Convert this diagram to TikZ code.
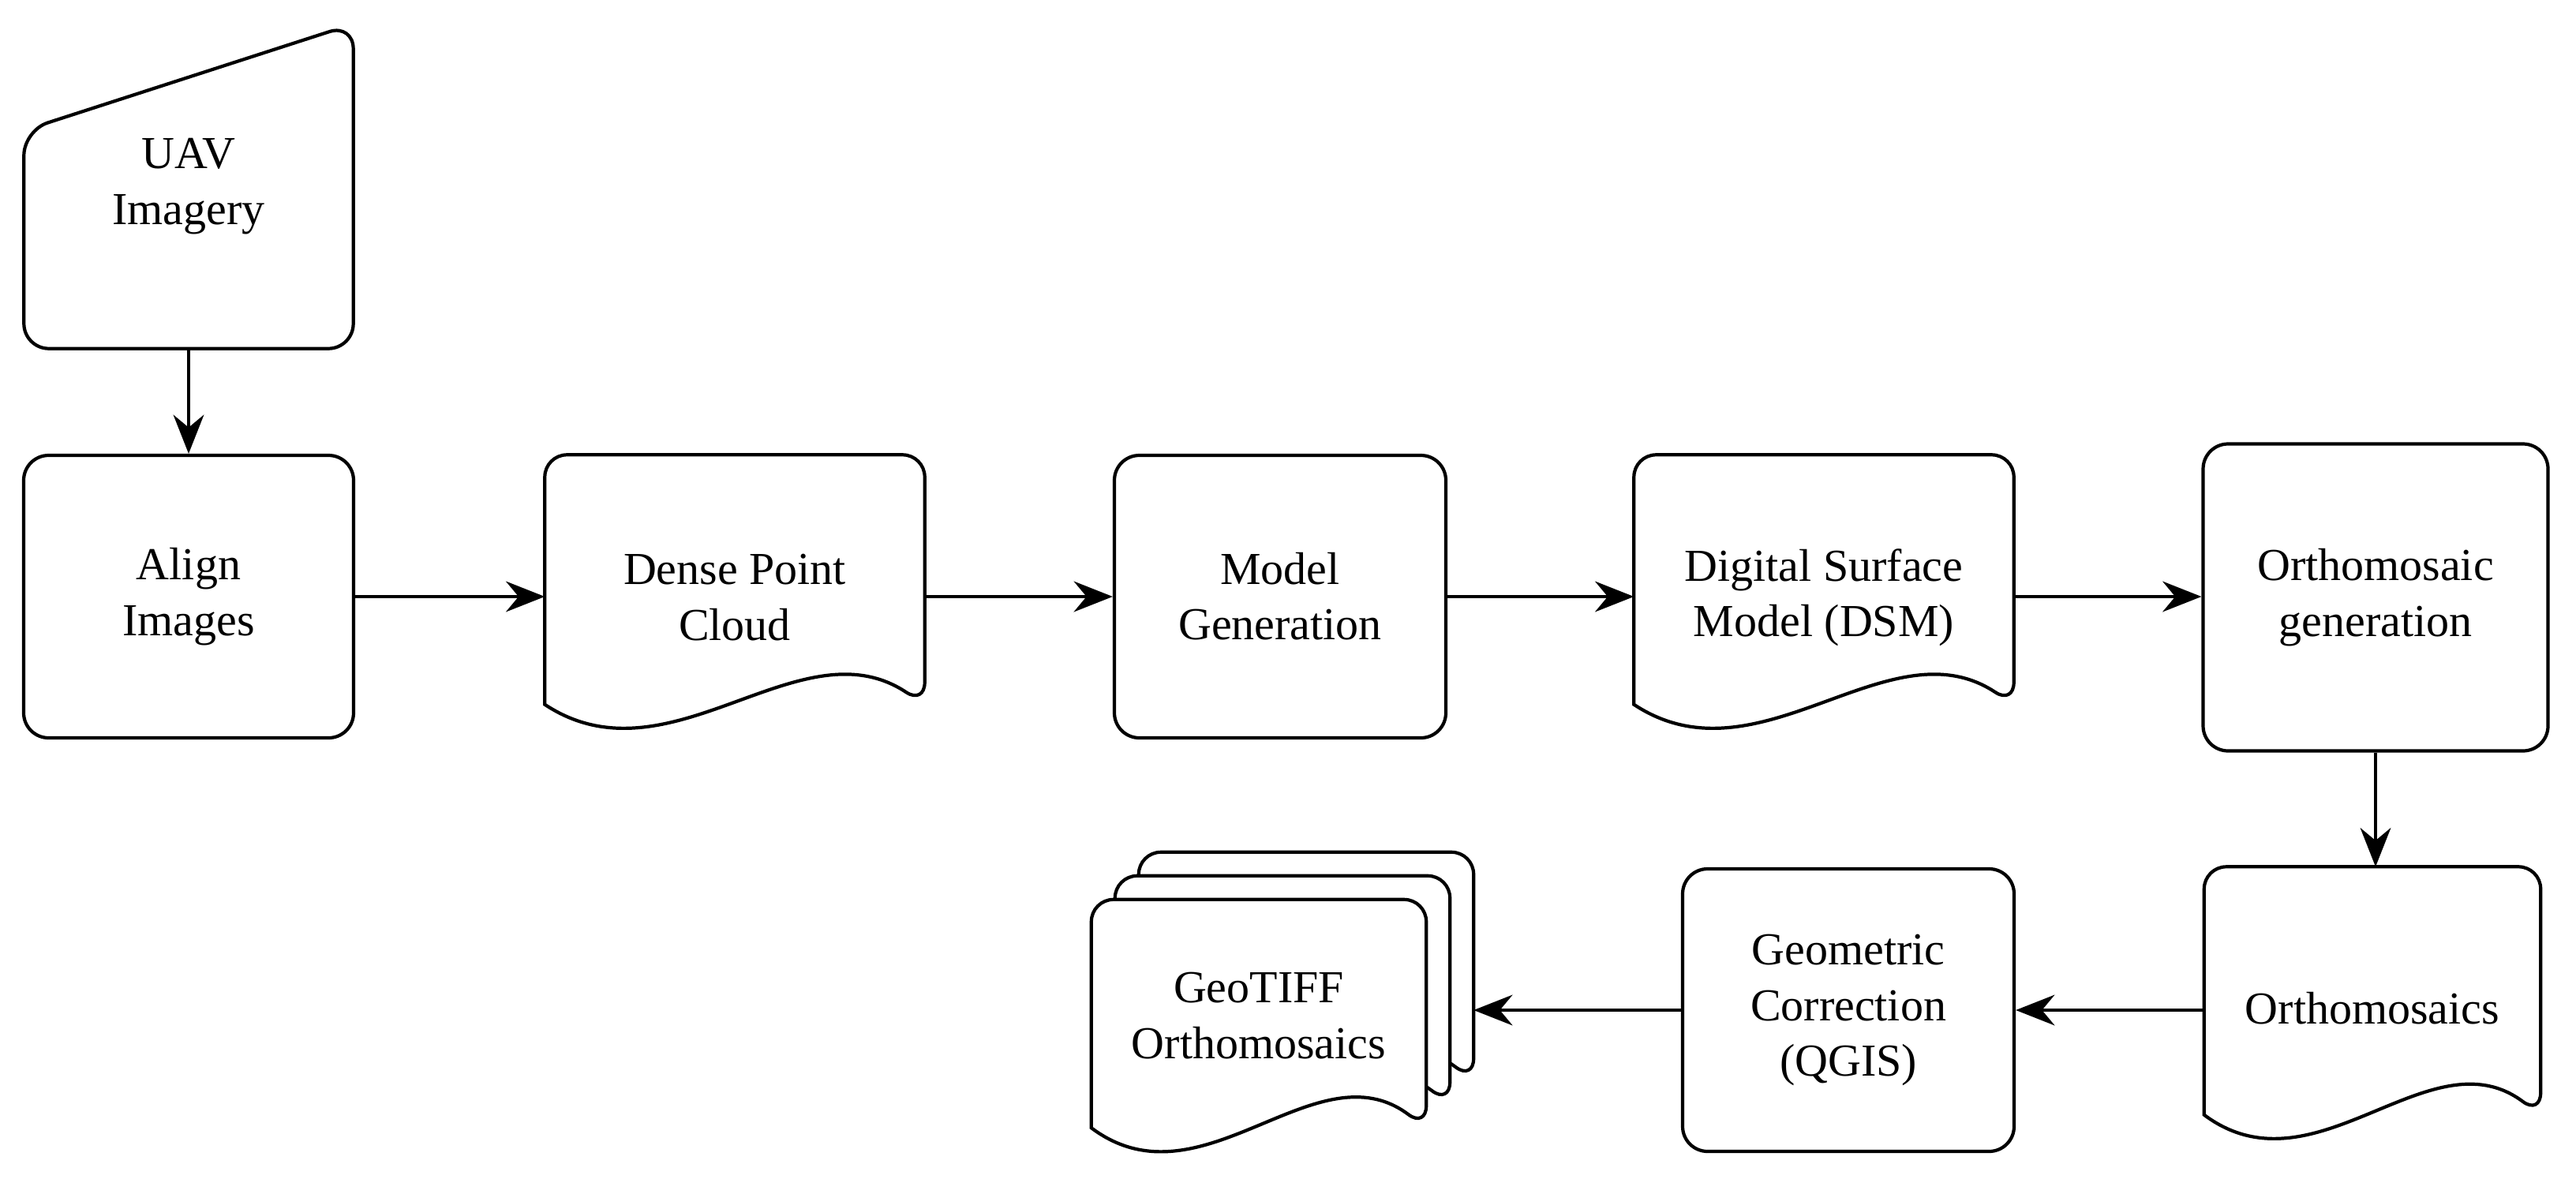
\documentclass[tikz,border=0pt]{standalone}
\usepackage{fontspec}
\setmainfont{Liberation Serif}
\usetikzlibrary{arrows.meta,calc}

% wavy-bottom document outline around a node
\newcommand{\docpath}[2][]{%
  \draw[line width=1.2pt, #1] ($(#2.south east)+(0,0.45)$)
    .. controls ($(#2.south east)!0.33!(#2.south west)+(0,1.5)$)
       and ($(#2.south east)!0.67!(#2.south west)+(0,-0.6)$)
    .. ($(#2.south west)+(0,0.45)$)
    [rounded corners=8pt] -- (#2.north west) -- (#2.north east) -- cycle;}

\begin{document}
\begin{tikzpicture}[>={Stealth[length=14pt,width=11pt]},
  font=\fontsize{16.5}{20}\selectfont,
  box/.style={draw, line width=1.2pt, rounded corners=9pt, align=center,
    minimum width=4.18cm, minimum height=3.58cm},
  doc/.style={align=center, minimum width=4.8cm, minimum height=3.6cm},
  flow/.style={->, line width=1.2pt}]
  \useasboundingbox (0,0) rectangle (32.64,-15.12);

  % input
  \node[minimum width=4.16cm, minimum height=4.1cm, align=center] (uav) at (2.39,-2.36) {UAV\\Imagery};
  \draw[line width=1.2pt, rounded corners=9pt] (uav.south west) -- ($(uav.north west)+(0,-1.35)$)
    -- (uav.north east) -- (uav.south east) -- cycle;

  % top row
  \node[box] (align) at (2.39,-7.56) {Align\\Images};
  \node[doc] (dense) at (9.31,-7.57) {Dense Point\\Cloud};
  \docpath{dense}
  \node[box, minimum width=4.2cm] (model) at (16.22,-7.56) {Model\\Generation};
  \node[doc] (dsm) at (23.11,-7.57) {Digital Surface\\Model (DSM)};
  \docpath{dsm}
  \node[box, minimum width=4.37cm, minimum height=3.89cm] (orthogen) at (30.1,-7.57) {Orthomosaic\\generation};

  % bottom row
  \node[doc, minimum width=4.25cm, minimum height=3.58cm] (ortho) at (30.06,-12.78) {Orthomosaics};
  \docpath{ortho}
  \node[box, minimum width=4.2cm] (geom) at (23.42,-12.8) {Geometric\\Correction\\(QGIS)};
  \node[doc, minimum width=4.23cm, minimum height=3.33cm] (tiff3) at (16.55,-12.47) {};
  \docpath[fill=white]{tiff3}
  \node[doc, minimum width=4.23cm, minimum height=3.33cm] (tiff2) at (16.25,-12.77) {};
  \docpath[fill=white]{tiff2}
  \node[doc, minimum width=4.23cm, minimum height=3.33cm] (tiff) at (15.95,-13.07) {};
  \docpath[fill=white]{tiff}
  \node[align=center] at ($(tiff)+(0,0.2)$) {GeoTIFF\\Orthomosaics};

  % connectors
  \draw[flow] (uav) -- (align);
  \draw[flow] (align) -- (align -| dense.west);
  \draw[flow] (align -| dense.east) -- (align -| model.west);
  \draw[flow] (model) -- (model -| dsm.west);
  \draw[flow] (model -| dsm.east) -- (model -| orthogen.west);
  \draw[flow] (orthogen) -- (orthogen |- ortho.north);
  \draw[flow] (geom -| ortho.west) -- (geom);
  \draw[flow] (geom.west) -- (geom.west -| tiff3.east);
\end{tikzpicture}
\end{document}
